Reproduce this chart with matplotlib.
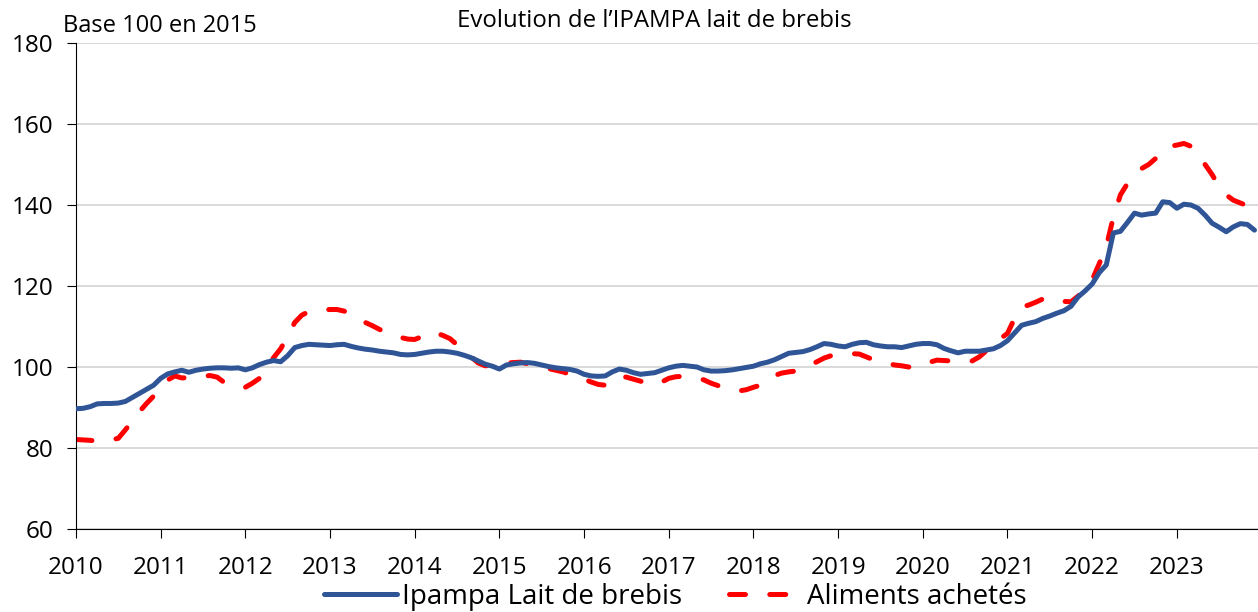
import numpy as np
import matplotlib.pyplot as plt

plt.rcParams['font.family'] = ['Open Sans', 'DejaVu Sans']
plt.rcParams['lines.scale_dashes'] = False

# Monthly indices, Jan 2010 - Dec 2023 (base 100 in 2015)
ipampa_brebis = [
    89.7, 89.8, 90.2, 90.9, 91.0, 91.0, 91.1, 91.5, 92.5, 93.5, 94.5, 95.5,          # 2010
    97.2, 98.3, 98.8, 99.2, 98.7, 99.2, 99.5, 99.7, 99.8, 99.8, 99.7, 99.8,          # 2011
    99.3, 99.8, 100.6, 101.2, 101.6, 101.3, 102.8, 104.8, 105.3, 105.6, 105.5, 105.4,  # 2012
    105.3, 105.5, 105.6, 105.1, 104.7, 104.4, 104.2, 103.9, 103.7, 103.5, 103.1, 103.0,  # 2013
    103.1, 103.4, 103.7, 103.9, 103.9, 103.7, 103.4, 102.9, 102.3, 101.5, 100.7, 100.2,  # 2014
    99.5, 100.5, 100.8, 101.0, 101.1, 100.9, 100.5, 100.1, 99.8, 99.6, 99.4, 99.0,   # 2015
    98.2, 97.8, 97.7, 97.8, 98.8, 99.5, 99.2, 98.6, 98.2, 98.4, 98.6, 99.2,          # 2016
    99.8, 100.2, 100.4, 100.2, 100.0, 99.3, 99.0, 99.0, 99.1, 99.3, 99.6, 99.9,      # 2017
    100.2, 100.8, 101.2, 101.8, 102.6, 103.4, 103.6, 103.8, 104.3, 105.0, 105.8, 105.6,  # 2018
    105.2, 105.0, 105.6, 106.0, 106.1, 105.5, 105.2, 105.0, 105.0, 104.8, 105.2, 105.6,  # 2019
    105.8, 105.8, 105.5, 104.6, 104.0, 103.5, 103.9, 103.9, 103.9, 104.2, 104.5, 105.3,  # 2020
    106.5, 108.4, 110.3, 110.8, 111.2, 112.0, 112.6, 113.3, 113.9, 115.0, 117.3, 118.8,  # 2021
    120.5, 123.3, 125.2, 133.1, 133.5, 135.7, 138.0, 137.5, 137.8, 138.0, 140.8, 140.6,  # 2022
    139.2, 140.2, 140.0, 139.2, 137.5, 135.5, 134.5, 133.4, 134.6, 135.4, 135.2, 133.8,  # 2023
]
aliments_achetes = [
    82.1, 82.0, 81.9, 81.7, 81.8, 82.0, 82.4, 84.5, 86.7, 89.0, 91.0, 92.8,          # 2010
    95.0, 96.8, 97.8, 97.3, 97.4, 97.5, 97.7, 97.9, 97.5, 96.2, 95.3, 95.1,          # 2011
    95.0, 96.0, 97.2, 99.5, 102.3, 104.5, 107.5, 111.0, 112.8, 113.7, 114.0, 114.1,  # 2012
    114.2, 114.2, 113.8, 113.1, 112.2, 111.0, 110.2, 109.3, 108.4, 107.9, 107.3, 106.9,  # 2013
    106.8, 107.5, 108.6, 108.4, 107.8, 107.0, 105.5, 104.2, 102.5, 101.0, 100.3, 100.5,  # 2014
    100.8, 101.0, 101.1, 101.2, 100.8, 100.3, 100.0, 99.6, 99.2, 98.8, 98.2, 97.7,   # 2015
    97.0, 96.3, 95.7, 95.5, 96.6, 97.7, 97.5, 97.0, 96.5, 96.0, 95.6, 96.3,          # 2016
    97.2, 97.6, 97.7, 97.6, 97.4, 96.8, 96.0, 95.4, 95.0, 94.5, 94.1, 94.4,          # 2017
    95.0, 95.5, 96.5, 97.9, 98.5, 98.8, 99.0, 99.6, 100.5, 101.3, 102.2, 102.8,      # 2018
    103.2, 103.3, 103.3, 103.2, 102.5, 101.8, 101.4, 100.9, 100.5, 100.3, 100.0, 99.9,  # 2019
    100.4, 101.2, 101.7, 101.6, 101.5, 101.5, 101.5, 101.5, 102.5, 104.0, 105.2, 107.0,  # 2020
    108.3, 112.0, 114.8, 115.3, 116.0, 116.8, 117.2, 116.8, 116.2, 116.1, 117.5, 119.2,  # 2021
    121.5, 125.5, 129.7, 137.0, 142.5, 145.3, 147.4, 149.0, 150.0, 151.5, 153.3, 154.5,  # 2022
    154.8, 155.2, 154.5, 152.8, 150.0, 147.5, 144.5, 142.5, 141.2, 140.5, 139.8, 139.2,  # 2023
]
years = list(range(2010, 2024))

t = 2010 + np.arange(len(ipampa_brebis)) / 12

fig = plt.figure(figsize=(12.58, 6.12), dpi=100)
ax = fig.add_axes([0.0604, 0.1356, 0.9396, 0.7941])

ax.plot(t, ipampa_brebis, color='#2F5597', lw=3.6, label='Ipampa Lait de brebis',
        solid_capstyle='round', solid_joinstyle='round', zorder=3)
ax.plot(t, aliments_achetes, color='#FF0000', lw=3.6, label='Aliments achetés',
        dashes=(11.5, 17.5), dash_capstyle='round', zorder=2)

ax.set_xlim(2010, 2010 + 167.5 / 12)
ax.set_ylim(60, 180)
ax.set_yticks(range(60, 181, 20))
ax.set_xticks(years)
ax.set_xticklabels([str(y) for y in years])
ax.grid(axis='y', color='#d9d9d9', lw=1.4)
ax.set_axisbelow(True)

for s in ['top', 'right']:
    ax.spines[s].set_visible(False)
ax.spines['left'].set_color('black')
ax.spines['bottom'].set_color('black')
ax.tick_params(axis='both', labelsize=17.5, length=6.5, direction='out', colors='black')
ax.tick_params(axis='y', pad=10)
ax.tick_params(axis='x', pad=13)

fig.text(0.52, 0.966, 'Evolution de l\u2019IPAMPA lait de brebis', ha='center', va='center', fontsize=17.3)
fig.text(0.050, 0.958, 'Base 100 en 2015', ha='left', va='center', fontsize=17)

fig.legend(loc='center', bbox_to_anchor=(0.537, 0.025), ncol=2, frameon=False,
           fontsize=20, handlelength=2.6, columnspacing=1.7, handletextpad=0.2,
           borderpad=0, borderaxespad=0)

fig.savefig('out.png', dpi=100)
